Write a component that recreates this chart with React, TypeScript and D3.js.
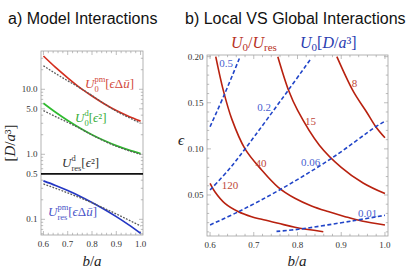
import React from 'react';
import * as d3 from 'd3';

// panel a: model interactions vs b/a (log scale)
const bRatio = [0.6, 0.65, 0.7, 0.75, 0.8, 0.85, 0.9, 0.95, 1.0];
const u0pm = [32.5, 21.7, 15.0, 10.6, 7.9, 6.0, 4.7, 3.85, 3.24];
const u0pmApprox = [23, 17.5, 13.5, 10.5, 8.0, 6.0, 4.6, 3.7, 3.0];
const u0d = [6.1, 4.43, 3.31, 2.54, 2.0, 1.63, 1.36, 1.17, 1.03];
const u0dApprox = [4.7, 3.8, 3.1, 2.5, 1.98, 1.6, 1.33, 1.14, 1.0];
const uresD = 0.5;
const uresPm = [0.39, 0.332, 0.277, 0.227, 0.182, 0.143, 0.11, 0.083, 0.061];
const uresPmApprox = [0.35, 0.3, 0.255, 0.215, 0.18, 0.148, 0.121, 0.098, 0.079];

const aXTicks = [0.6, 0.7, 0.8, 0.9, 1.0];
const aYTicks = [0.1, 0.5, 1, 5, 10];
const aYTickLabels = ['0.1', '0.5', '1.0', '5.0', '10.0'];
const aYMinor = [0.06, 0.07, 0.08, 0.09, 0.2, 0.3, 0.4, 0.6, 0.7, 0.8, 0.9, 2, 3, 4, 6, 7, 8, 9, 20, 30];

// panel b: contours in (b/a, eps)
const ratio120: [number, number][] = [[0.6, 0.0627], [0.611, 0.0536], [0.634, 0.041], [0.665, 0.0319], [0.695, 0.0265], [0.718, 0.0236], [0.756, 0.0193], [0.794, 0.015], [0.859, 0.0102]];
const ratio40: [number, number][] = [[0.613, 0.2], [0.63, 0.164], [0.65, 0.132], [0.68, 0.1], [0.718, 0.0771], [0.756, 0.0583], [0.794, 0.0464], [0.832, 0.0381], [0.87, 0.032], [0.909, 0.0265], [0.947, 0.0218], [1.0, 0.0175]];
const ratio15: [number, number][] = [[0.755, 0.2], [0.78, 0.163], [0.8, 0.142], [0.85, 0.104], [0.9, 0.08], [0.95, 0.063], [1.0, 0.0515]];
const ratio8: [number, number][] = [[0.89, 0.2], [0.928, 0.162], [0.958, 0.14], [0.979, 0.124], [1.0, 0.112]];
const pot05: [number, number][] = [[0.6, 0.124], [0.633, 0.1592], [0.667, 0.198]];
const pot02: [number, number][] = [[0.6, 0.0554], [0.642, 0.0771], [0.68, 0.0999], [0.779, 0.1637], [0.831, 0.198]];
const pot006: [number, number][] = [[0.6, 0.0175], [0.665, 0.0319], [0.756, 0.0547], [0.878, 0.0898], [0.979, 0.124], [1.0, 0.13]];
const pot001: [number, number][] = [[0.752, 0.0105], [0.802, 0.0128], [0.928, 0.0221], [1.0, 0.028]];

const bYTicks = [0.05, 0.1, 0.15, 0.2];
const bYTickLabels = ['0.05', '0.10', '0.15', '0.20'];

const SERIF = "'Liberation Serif', 'Times New Roman', 'DejaVu Serif', serif";
const SANS = "'Liberation Sans', Arial, Helvetica, sans-serif";

const FRAME = '#a0a0a0';
const RED_A = '#d42e1e';
const GREEN_A = '#2fba2f';
const BLUE_A = '#2437c4';
const RED_B = '#b8210f';
const BLUE_B = '#2145c8';

const range = (a: number, b: number, step: number) => d3.range(Math.round((b - a) / step) + 1).map((i) => +(a + i * step).toFixed(4));

function Frame({ x, y, xMajor, xMinor, yMajor, yMinor, yLabels }: any) {
  const [x0, x1] = x.range();
  const [yb, yt] = y.range();
  const major = 4;
  const minor = 2.2;
  return (
    <g>
      <rect x={x0} y={yt} width={x1 - x0} height={yb - yt} fill="none" stroke={FRAME} strokeWidth={0.8} />
      <g stroke={FRAME} strokeWidth={0.7}>
        {xMajor.concat(xMinor).map((v: number, i: number) => {
          const len = i < xMajor.length ? major : minor;
          const px = x(v);
          return (
            <g key={`x${i}`}>
              <line x1={px} x2={px} y1={yb} y2={yb - len} />
              <line x1={px} x2={px} y1={yt} y2={yt + len} />
            </g>
          );
        })}
        {yMajor.concat(yMinor).map((v: number, i: number) => {
          const len = i < yMajor.length ? major : minor;
          const py = y(v);
          return (
            <g key={`y${i}`}>
              <line x1={x0} x2={x0 + len} y1={py} y2={py} />
              <line x1={x1} x2={x1 - len} y1={py} y2={py} />
            </g>
          );
        })}
      </g>
      <g fontFamily={SERIF} fontSize={9} fill="#333">
        {xMajor.map((v: number) => (
          <text key={v} x={x(v)} y={yb + 11.5} textAnchor="middle">
            {v.toFixed(1)}
          </text>
        ))}
        {yMajor.map((v: number, i: number) => (
          <text key={v} x={x0 - 3.5} y={y(v) + 3} textAnchor="end">
            {yLabels[i]}
          </text>
        ))}
      </g>
    </g>
  );
}

export default function App() {
  // panel a scales
  const xa = d3.scaleLinear().domain([0.59, 1.01]).range([41, 143]);
  const ya = d3.scaleLog().domain([0.0574, 38.8]).range([235, 51]);
  // panel b scales
  const xb = d3.scaleLinear().domain([0.593, 1.007]).range([207, 388]);
  const yb = d3.scaleLinear().domain([0.00553, 0.2018]).range([236, 55]);

  const lineA = (vals: number[]) =>
    d3
      .line<number>()
      .x((_, i) => xa(bRatio[i]))
      .y((v) => ya(v))
      .curve(d3.curveMonotoneX)(vals) as string;

  const lineB = (pts: [number, number][]) =>
    d3
      .line<[number, number]>()
      .x((d) => xb(d[0]))
      .y((d) => yb(d[1]))
      .curve(d3.curveCatmullRom)(pts) as string;

  const approxStyle = { stroke: '#5a5a5a', strokeWidth: 1.3, strokeDasharray: '1.8,1.4', fill: 'none' };
  const s = 8.5; // script size

  return (
    <svg width={415} height={275} style={{ position: 'absolute', left: 0, top: 0, background: '#fff' }}>
      {/* titles */}
      <text x={8} y={24} fontFamily={SANS} fontSize={16} fill="#111">
        a) Model Interactions
      </text>
      <text x={185} y={24} fontFamily={SANS} fontSize={16} fill="#111">
        b) Local VS Global Interactions
      </text>

      {/* panel a */}
      <Frame
        x={xa}
        y={ya}
        xMajor={aXTicks}
        xMinor={range(0.6, 1.0, 0.02).filter((v) => !aXTicks.some((t) => Math.abs(t - v) < 1e-6))}
        yMajor={aYTicks}
        yMinor={aYMinor}
        yLabels={aYTickLabels}
      />
      <defs>
        <clipPath id="clipA">
          <rect x={41} y={51} width={102} height={184} />
        </clipPath>
        <clipPath id="clipB">
          <rect x={207} y={55} width={181} height={181} />
        </clipPath>
      </defs>
      <g clipPath="url(#clipA)">
        <path d={lineA(u0pm)} stroke={RED_A} strokeWidth={1.7} fill="none" />
        <path d={lineA(u0pmApprox)} {...approxStyle} />
        <path d={lineA(u0d)} stroke={GREEN_A} strokeWidth={1.7} fill="none" />
        <path d={lineA(u0dApprox)} {...approxStyle} />
        <line x1={41} x2={143} y1={ya(uresD)} y2={ya(uresD)} stroke="#111" strokeWidth={1.8} />
        <path d={lineA(uresPm)} stroke={BLUE_A} strokeWidth={1.7} fill="none" />
        <path d={lineA(uresPmApprox)} {...approxStyle} />
      </g>

      {/* panel a labels */}
      <g fontFamily={SERIF} fontSize={13}>
        <text x={85} y={88} fill="#d24a3c">
          <tspan fontStyle="italic">U</tspan>
          <tspan fontSize={s} dy={3.5}>0</tspan>
          <tspan fontSize={s} dx={-s * 0.5} dy={-9.5}>pm</tspan>
          <tspan dy={6}>[</tspan>
          <tspan fontStyle="italic">ϵ</tspan>
          <tspan>Δ</tspan>
          <tspan fontStyle="italic">ū</tspan>
          <tspan>]</tspan>
        </text>
        <text x={75} y={122} fill="#3aae3a">
          <tspan fontStyle="italic">U</tspan>
          <tspan fontSize={s} dy={3.5}>0</tspan>
          <tspan fontSize={s} dx={-s * 0.5} dy={-9.5}>d</tspan>
          <tspan dy={6}>[</tspan>
          <tspan fontStyle="italic">ϵ</tspan>
          <tspan>²]</tspan>
        </text>
        <text x={62} y={167} fill="#333">
          <tspan fontStyle="italic">U</tspan>
          <tspan fontSize={s} dy={-6}>d</tspan>
          <tspan fontSize={s} dx={-s * 0.5} dy={9.5}>res</tspan>
          <tspan dy={-3.5}>[</tspan>
          <tspan fontStyle="italic">ϵ</tspan>
          <tspan>²]</tspan>
        </text>
        <text x={48} y={216} fill="#4a55c8">
          <tspan fontStyle="italic">U</tspan>
          <tspan fontSize={s} dy={3.5}>res</tspan>
          <tspan fontSize={s} dx={-s * 1.166} dy={-9.5}>pm</tspan>
          <tspan dy={6}>[</tspan>
          <tspan fontStyle="italic">ϵ</tspan>
          <tspan>Δ</tspan>
          <tspan fontStyle="italic">ū</tspan>
          <tspan>]</tspan>
        </text>
      </g>

      {/* panel a axis labels */}
      <text transform="translate(15,143) rotate(-90)" textAnchor="middle" fontFamily={SERIF} fontSize={15} fill="#222">
        <tspan>[</tspan>
        <tspan fontStyle="italic">D</tspan>
        <tspan>/</tspan>
        <tspan fontStyle="italic">a</tspan>
        <tspan>³]</tspan>
      </text>
      <text x={92} y={266} textAnchor="middle" fontFamily={SERIF} fontSize={15} fill="#222">
        <tspan fontStyle="italic">b</tspan>
        <tspan>/</tspan>
        <tspan fontStyle="italic">a</tspan>
      </text>

      {/* panel b */}
      <Frame
        x={xb}
        y={yb}
        xMajor={aXTicks}
        xMinor={range(0.6, 1.0, 0.02).filter((v) => !aXTicks.some((t) => Math.abs(t - v) < 1e-6))}
        yMajor={bYTicks}
        yMinor={range(0.01, 0.2, 0.01).filter((v) => !bYTicks.some((t) => Math.abs(t - v) < 1e-6))}
        yLabels={bYTickLabels}
      />
      <g clipPath="url(#clipB)" fill="none">
        {[ratio120, ratio40, ratio15, ratio8].map((c, i) => (
          <path key={`r${i}`} d={lineB(c)} stroke={RED_B} strokeWidth={1.6} />
        ))}
        {[pot05, pot02, pot006, pot001].map((c, i) => (
          <path key={`p${i}`} d={lineB(c)} stroke={BLUE_B} strokeWidth={1.6} strokeDasharray="4,2.4" />
        ))}
      </g>

      {/* contour labels */}
      <g fontFamily={SERIF} fontSize={11} textAnchor="middle">
        <text x={230} y={189} fill="#c0473a">120</text>
        <text x={261} y={167} fill="#c0473a">40</text>
        <text x={310.5} y={125} fill="#c0473a">15</text>
        <text x={354.5} y={87} fill="#c0473a">8</text>
        <text x={226} y={67} fill="#4a5fd0">0.5</text>
        <text x={264} y={111} fill="#4a5fd0">0.2</text>
        <text x={310.5} y={165.5} fill="#4a5fd0">0.06</text>
        <text x={367.7} y={216.5} fill="#4a5fd0">0.01</text>
      </g>

      {/* panel b header labels */}
      <g fontFamily={SERIF} fontSize={16}>
        <text x={231} y={48} fill="#b8321f">
          <tspan fontStyle="italic">U</tspan>
          <tspan fontSize={11} dy={3}>0</tspan>
          <tspan dy={-3}>/</tspan>
          <tspan fontStyle="italic">U</tspan>
          <tspan fontSize={11} dy={3}>res</tspan>
        </text>
        <text x={300} y={48} fill="#2a3cb0">
          <tspan fontStyle="italic">U</tspan>
          <tspan fontSize={11} dy={3}>0</tspan>
          <tspan dy={-3}>[</tspan>
          <tspan fontStyle="italic">D</tspan>
          <tspan>/</tspan>
          <tspan fontStyle="italic">a</tspan>
          <tspan>³]</tspan>
        </text>
      </g>

      {/* panel b axis labels */}
      <text x={181} y={145} textAnchor="middle" fontFamily={SERIF} fontSize={15} fontStyle="italic" fill="#222">
        ϵ
      </text>
      <text x={297} y={266} textAnchor="middle" fontFamily={SERIF} fontSize={15} fill="#222">
        <tspan fontStyle="italic">b</tspan>
        <tspan>/</tspan>
        <tspan fontStyle="italic">a</tspan>
      </text>
    </svg>
  );
}
